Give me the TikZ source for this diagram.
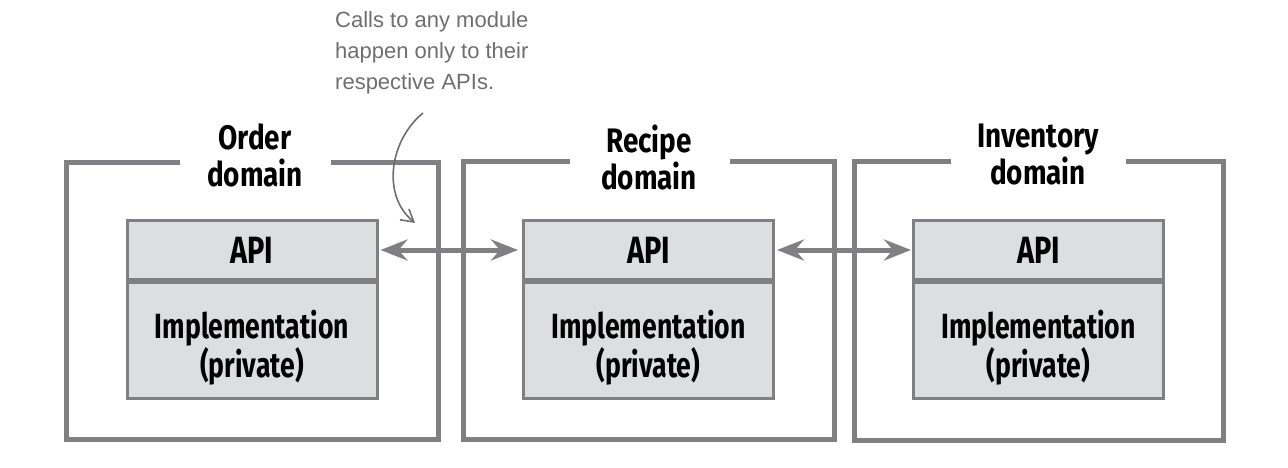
\documentclass[tikz,border=0pt]{standalone}
\usepackage{fontspec}
\usetikzlibrary{arrows.meta}
\newfontfamily\boxfont[FakeStretch=0.76]{Fira Sans}
\newfontfamily\domfont[FakeStretch=0.82]{Fira Sans}
\newfontfamily\notefont{Liberation Sans}
\definecolor{linegray}{HTML}{808082}
\definecolor{boxfill}{HTML}{DDDEE0}
\definecolor{notegray}{HTML}{6E6E6E}
\newcommand{\impltext}{\rule{0pt}{43pt}Implementation\\(private)}
\tikzset{
  outerbox/.style={draw=linegray, line width=5pt, line cap=rect},
  apibox/.style={draw=linegray, fill=boxfill, line width=3pt, minimum width=250pt, minimum height=59pt, inner sep=0pt, font=\boxfont\bfseries\fontsize{38}{40}\selectfont},
  implbox/.style={draw=linegray, fill=boxfill, line width=3pt, minimum width=250pt, minimum height=116pt, inner sep=0pt, align=center, font=\boxfont\bfseries\fontsize{35}{39}\selectfont},
  domlabel/.style={align=center, font=\domfont\bfseries\fontsize{34}{37}\selectfont},
  callarrow/.style={draw=linegray, line width=5pt, {Stealth[length=27pt,width=21pt,inset=9pt]}-{Stealth[length=27pt,width=21pt,inset=9pt]}},
  notetext/.style={align=left, text=notegray, font=\notefont\fontsize{22}{31}\selectfont, inner sep=0pt},
  notearrow/.style={draw=notegray, line width=1.6pt, -{Straight Barb[length=12pt,width=14pt]}}
}
\begin{document}
\begin{tikzpicture}[x=1pt,y=-1pt]
\useasboundingbox (0,0) rectangle (1288,468);
% outer domain boxes
\draw[outerbox] (177,163) -- (66,163) -- (66,439) -- (438,439) -- (438,163) -- (333,163);
\draw[outerbox] (567,162) -- (463,162) -- (463,439) -- (834,439) -- (834,162) -- (732,162);
\draw[outerbox] (948,162) -- (854,162) -- (854,440) -- (1223,440) -- (1223,162) -- (1128,162);
% domain labels
\node[domlabel] (lorder) at (255,155) {Order\\domain};
\node[domlabel] (lrecipe) at (649,158) {Recipe\\domain};
\node[domlabel] (linv) at (1038,155) {Inventory\\domain};
% inner boxes
\node[apibox, anchor=north] (api1) at (252,219) {API};
\node[implbox, anchor=north] (impl1) at (api1.south) {\impltext};
\node[apibox, anchor=north] (api2) at (648.5,219) {API};
\node[implbox, anchor=north] (impl2) at (api2.south) {\impltext};
\node[apibox, anchor=north] (api3) at (1038.5,219) {API};
\node[implbox, anchor=north] (impl3) at (api3.south) {\impltext};
% arrows between APIs
\draw[callarrow, shorten <=2pt, shorten >=4pt] (api1.east) -- (api2.west);
\draw[callarrow, shorten <=2pt, shorten >=1pt] (api2.east) -- (api3.west);
% annotation
\node[notetext, anchor=north west] (note) at (335,11) {Calls to any module\\happen only to their\\respective APIs.};
\coordinate (nstart) at (423,113);
\coordinate (nend) at (415,223);
\draw[notearrow] (nstart) .. controls (390,140) and (381,195) .. (nend);
\end{tikzpicture}
\end{document}
